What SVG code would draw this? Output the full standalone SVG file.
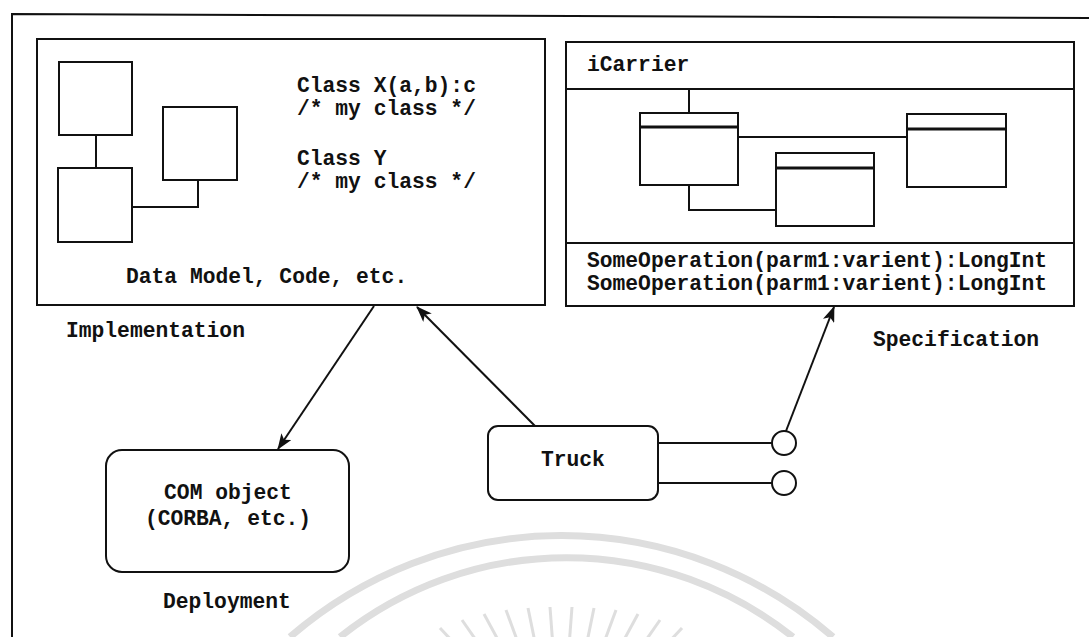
<svg xmlns="http://www.w3.org/2000/svg" width="1089" height="637" viewBox="0 0 1089 637">
  <style>
    .box { fill: #fff; stroke: #111; stroke-width: 2; }
    .ln { fill: none; stroke: #111; stroke-width: 2; }
    .hdr { fill: none; stroke: #111; stroke-width: 3; }
    .arrow { fill: none; stroke: #111; stroke-width: 2; marker-end: url(#head); }
    .t { font-family: "Liberation Mono", "Courier New", monospace; font-size: 21.3px; font-weight: bold; fill: #111; }
    .mid { text-anchor: middle; }
    .em { fill: none; stroke: #dedede; }
  </style>
  <defs>
    <marker id="head" viewBox="0 0 16 12" markerWidth="16" markerHeight="12" refX="15" refY="6" orient="auto" markerUnits="userSpaceOnUse">
      <path d="M0,0 L16,6 L0,12 L4,6 z" fill="#111"/>
    </marker>
  </defs>

  <rect width="1089" height="637" fill="#fff"/>

  <!-- faint emblem in the background -->
  <g id="emblem" class="em">
    <path d="M 290 637 A 414 414 0 0 1 833 637" stroke-width="7"/>
    <path d="M 340 637 A 363 363 0 0 1 793 637" stroke-width="7"/>
    <g stroke-width="3">
      <line x1="440" y1="628" x2="467" y2="657"/>
      <line x1="462" y1="620" x2="485" y2="653"/>
      <line x1="484" y1="614" x2="503" y2="649"/>
      <line x1="506" y1="610" x2="520" y2="648"/>
      <line x1="528" y1="608" x2="536" y2="647"/>
      <line x1="550" y1="607" x2="553" y2="647"/>
      <line x1="572" y1="607" x2="569" y2="647"/>
      <line x1="594" y1="608" x2="586" y2="647"/>
      <line x1="616" y1="610" x2="602" y2="648"/>
      <line x1="638" y1="614" x2="619" y2="649"/>
      <line x1="660" y1="620" x2="637" y2="653"/>
      <line x1="682" y1="628" x2="655" y2="657"/>
    </g>
  </g>

  <!-- outer frame -->
  <g id="frame">
    <polyline class="ln" points="12,637 12,14 1089,18"/>
  </g>

  <!-- implementation box -->
  <g id="implementation">
    <rect class="box" x="37" y="39" width="508" height="266"/>
    <rect class="box" x="59" y="62" width="73" height="73"/>
    <rect class="box" x="163" y="107" width="74" height="73"/>
    <rect class="box" x="58" y="168" width="74" height="74"/>
    <polyline class="ln" points="96,135 96,168"/>
    <polyline class="ln" points="132,207 198,207 198,180"/>
    <text class="t" x="297" y="92">Class X(a,b):c</text>
    <text class="t" x="297" y="115">/* my class */</text>
    <text class="t" x="297" y="165">Class Y</text>
    <text class="t" x="297" y="188">/* my class */</text>
    <text class="t" x="126" y="283">Data Model, Code, etc.</text>
  </g>
  <g id="implementation-label">
    <text class="t" x="66" y="337">Implementation</text>
  </g>

  <!-- specification (interface) box -->
  <g id="specification">
    <rect class="box" x="566" y="42" width="508" height="264"/>
    <line class="ln" x1="566" y1="89" x2="1074" y2="89"/>
    <line class="ln" x1="566" y1="243" x2="1074" y2="243"/>
    <text class="t" x="587" y="71">iCarrier</text>
    <rect class="box" x="640" y="113" width="98" height="72"/>
    <line class="hdr" x1="640" y1="127" x2="738" y2="127"/>
    <rect class="box" x="776" y="153" width="98" height="73"/>
    <line class="hdr" x1="776" y1="168" x2="874" y2="168"/>
    <rect class="box" x="907" y="114" width="99" height="73"/>
    <line class="hdr" x1="907" y1="129" x2="1006" y2="129"/>
    <line class="ln" x1="689" y1="89" x2="689" y2="113"/>
    <line class="ln" x1="738" y1="137" x2="907" y2="137"/>
    <polyline class="ln" points="689,185 689,210 776,210"/>
    <text class="t" x="587" y="267">SomeOperation(parm1:varient):LongInt</text>
    <text class="t" x="587" y="290">SomeOperation(parm1:varient):LongInt</text>
  </g>
  <g id="specification-label">
    <text class="t" x="873" y="346">Specification</text>
  </g>

  <!-- deployment -->
  <g id="com-object">
    <rect class="box" x="106" y="450" width="243" height="122" rx="16"/>
    <text class="t mid" x="228" y="499">COM object</text>
    <text class="t mid" x="228" y="525">(CORBA, etc.)</text>
  </g>
  <g id="deployment-label">
    <text class="t" x="163" y="608">Deployment</text>
  </g>

  <!-- component with two interfaces -->
  <g id="truck">
    <rect class="box" x="488" y="426" width="170" height="74" rx="10"/>
    <text class="t" x="541" y="466">Truck</text>
    <circle class="box" cx="784" cy="443" r="12"/>
    <circle class="box" cx="784" cy="483" r="12"/>
  </g>

  <g id="connectors">
    <line class="ln" x1="658" y1="443" x2="772" y2="443"/>
    <line class="ln" x1="658" y1="483" x2="772" y2="483"/>
    <line class="arrow" x1="374" y1="306" x2="278" y2="449"/>
    <line class="arrow" x1="535" y1="426" x2="417" y2="307"/>
    <line class="arrow" x1="786" y1="431" x2="834" y2="307"/>
  </g>
</svg>
